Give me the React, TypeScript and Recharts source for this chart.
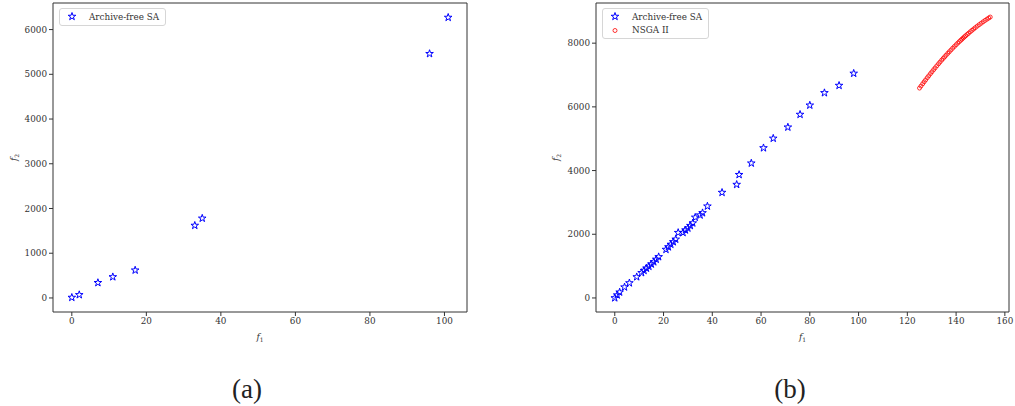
import React from 'react';
import { ScatterChart, Scatter, XAxis, YAxis, ReferenceArea } from 'recharts';

// (a) archive-free SA only
const saA_f1 = [0, 2, 7, 11, 17, 33, 35, 96, 101];
const saA_f2 = [10, 70, 340, 470, 620, 1620, 1780, 5460, 6270];

// (b) archive-free SA vs NSGA II
const saB_f1 = [0, 1, 2, 4, 6, 9, 11, 12, 13, 14, 15, 16, 17, 18, 21, 22, 23, 24, 25, 26, 28, 29, 30, 31, 32, 33, 35, 36, 38, 44, 50, 51, 56, 61, 65, 71, 76, 80, 86, 92, 98];
const saB_f2 = [0, 90, 180, 340, 470, 660, 790, 860, 930, 990, 1060, 1130, 1210, 1290, 1520, 1600, 1680, 1760, 1840, 2050, 2050, 2130, 2190, 2270, 2350, 2530, 2600, 2670, 2880, 3310, 3560, 3870, 4230, 4710, 5010, 5360, 5760, 6050, 6440, 6670, 7050];

const nsga_f1 = [125.0, 125.6, 126.3, 126.9, 127.5, 128.2, 128.8, 129.5, 130.1, 130.8, 131.4, 132.1, 132.8, 133.4, 134.1, 134.7, 135.3, 135.9, 136.6, 137.2, 137.9, 138.6, 139.3, 140.0, 140.7, 141.3, 141.9, 142.4, 142.9, 143.4, 143.9, 144.5, 145.1, 145.8, 146.5, 147.2, 147.9, 148.7, 149.5, 150.3, 151.1, 151.9, 152.7, 153.4, 154.0];
const nsga_f2 = [6590, 6653, 6725, 6787, 6847, 6917, 6976, 7044, 7102, 7168, 7224, 7289, 7352, 7406, 7468, 7520, 7571, 7622, 7680, 7730, 7786, 7842, 7896, 7950, 8003, 8047, 8091, 8126, 8162, 8197, 8231, 8272, 8311, 8357, 8402, 8445, 8488, 8536, 8582, 8627, 8671, 8714, 8755, 8790, 8820];

const ticksAx = [0, 20, 40, 60, 80, 100];
const ticksAy = [0, 1000, 2000, 3000, 4000, 5000, 6000];
const ticksBx = [0, 20, 40, 60, 80, 100, 120, 140, 160];
const ticksBy = [0, 2000, 4000, 6000, 8000];

const toPoints = (xs: number[], ys: number[]) => xs.map((x, i) => ({ f1: x, f2: ys[i] }));
const saA = toPoints(saA_f1, saA_f2);
const saB = toPoints(saB_f1, saB_f2);
const nsga = toPoints(nsga_f1, nsga_f2);

const FONT = '"DejaVu Serif", serif';
const INK = '#333';
const tickStyle = { fontSize: 8.8, fontFamily: FONT, fill: INK };

const starPath = (cx: number, cy: number, r: number) => {
  const pts: string[] = [];
  for (let i = 0; i < 10; i++) {
    const rr = i % 2 === 0 ? r : r * 0.382;
    const a = -Math.PI / 2 + (i * Math.PI) / 5;
    pts.push(`${cx + rr * Math.cos(a)},${cy + rr * Math.sin(a)}`);
  }
  return pts.join(' ');
};

const Star = (props: any) => (
  <polygon points={starPath(props.cx, props.cy, 4)} fill="none" stroke="#0000ff" strokeWidth={1} />
);
const Ring = (props: any) => (
  <circle cx={props.cx} cy={props.cy} r={2} fill="none" stroke="#ff0000" strokeWidth={0.8} />
);

const AxisTitle = (props: any) => {
  const { viewBox, sub, vertical, off } = props;
  const { x, y, width, height } = viewBox;
  const cx = vertical ? x + off : x + width / 2;
  const cy = vertical ? y + height / 2 : y + off;
  return (
    <text
      x={cx}
      y={cy}
      textAnchor="middle"
      dominantBaseline="central"
      fontFamily={FONT}
      fontSize={9}
      fill={INK}
      transform={vertical ? `rotate(-90, ${cx}, ${cy})` : undefined}
    >
      <tspan fontStyle="italic">f</tspan>
      <tspan fontSize={6} dy={2}>{sub}</tspan>
    </text>
  );
};

// matplotlib-style legend box, laid over the plot
const LegendBox = ({ items, left }: { items: { name: string; kind: 'star' | 'ring' }[]; left: number }) => (
  <div
    style={{
      position: 'absolute',
      left,
      top: 8,
      border: '1px solid #d6d6d6',
      borderRadius: 3,
      background: '#fff',
      padding: '1px 0',
      width: 105,
      fontFamily: FONT,
      fontSize: 8.8,
      color: INK,
    }}
  >
    {items.map((it) => (
      <div key={it.name} style={{ display: 'flex', alignItems: 'center', height: 13.5 }}>
        <svg width={29} height={13} style={{ flex: 'none' }}>
          {it.kind === 'star' ? (
            <polygon points={starPath(12, 6.5, 4)} fill="none" stroke="#0000ff" strokeWidth={1} />
          ) : (
            <circle cx={12} cy={6.5} r={2} fill="none" stroke="#ff0000" strokeWidth={0.8} />
          )}
        </svg>
        <span style={{ whiteSpace: 'nowrap' }}>{it.name}</span>
      </div>
    ))}
  </div>
);

const Caption = ({ text, left }: { text: string; left: number }) => (
  <div
    style={{
      position: 'absolute',
      left: left - 40,
      width: 80,
      top: 373,
      textAlign: 'center',
      fontFamily: '"Liberation Serif", serif',
      fontSize: 27,
      lineHeight: '32px',
      color: '#222',
    }}
  >
    {text}
  </div>
);

const App = () => (
  <div style={{ position: 'absolute', left: 0, top: 0, width: 1015, height: 406, background: '#fff' }}>
    <div style={{ position: 'absolute', left: 0, top: 0 }}>
      <ScatterChart width={480} height={406} margin={{ top: 3, right: 13, bottom: 34, left: 0 }}>
        <XAxis
          type="number"
          dataKey="f1"
          domain={[-5.05, 106.05]}
          allowDataOverflow
          ticks={ticksAx}
          height={60}
          axisLine={false}
          tickSize={4}
          tickMargin={2}
          tickLine={{ stroke: INK }}
          tick={tickStyle}
          label={<AxisTitle sub="1" off={25} />}
        />
        <YAxis
          type="number"
          dataKey="f2"
          domain={[-314, 6594]}
          allowDataOverflow
          ticks={ticksAy}
          width={53}
          axisLine={false}
          tickSize={4}
          tickMargin={2}
          tickLine={{ stroke: INK }}
          tick={tickStyle}
          label={<AxisTitle sub="2" vertical off={14} />}
        />
        <ReferenceArea x1={-5.05} x2={106.05} y1={-314} y2={6594} fill="none" stroke={INK} strokeWidth={1} />
        <Scatter name="Archive-free SA" data={saA} shape={Star} isAnimationActive={false} />
      </ScatterChart>
    </div>
    <LegendBox left={59} items={[{ name: 'Archive-free SA', kind: 'star' }]} />
    <div style={{ position: 'absolute', left: 540, top: 0 }}>
      <ScatterChart width={475} height={406} margin={{ top: 3, right: 6, bottom: 34, left: 0 }}>
        <XAxis
          type="number"
          dataKey="f1"
          domain={[-7.7, 161.7]}
          allowDataOverflow
          ticks={ticksBx}
          height={60}
          axisLine={false}
          tickSize={4}
          tickMargin={2}
          tickLine={{ stroke: INK }}
          tick={tickStyle}
          label={<AxisTitle sub="1" off={25} />}
        />
        <YAxis
          type="number"
          dataKey="f2"
          domain={[-441, 9261]}
          allowDataOverflow
          ticks={ticksBy}
          width={56}
          axisLine={false}
          tickSize={4}
          tickMargin={2}
          tickLine={{ stroke: INK }}
          tick={tickStyle}
          label={<AxisTitle sub="2" vertical off={16} />}
        />
        <ReferenceArea x1={-7.7} x2={161.7} y1={-441} y2={9261} fill="none" stroke={INK} strokeWidth={1} />
        <Scatter name="Archive-free SA" data={saB} shape={Star} isAnimationActive={false} />
        <Scatter name="NSGA II" data={nsga} shape={Ring} isAnimationActive={false} />
      </ScatterChart>
    </div>
    <LegendBox
      left={602}
      items={[
        { name: 'Archive-free SA', kind: 'star' },
        { name: 'NSGA II', kind: 'ring' },
      ]}
    />
    <Caption text="(a)" left={247} />
    <Caption text="(b)" left={790} />
  </div>
);

export default App;
